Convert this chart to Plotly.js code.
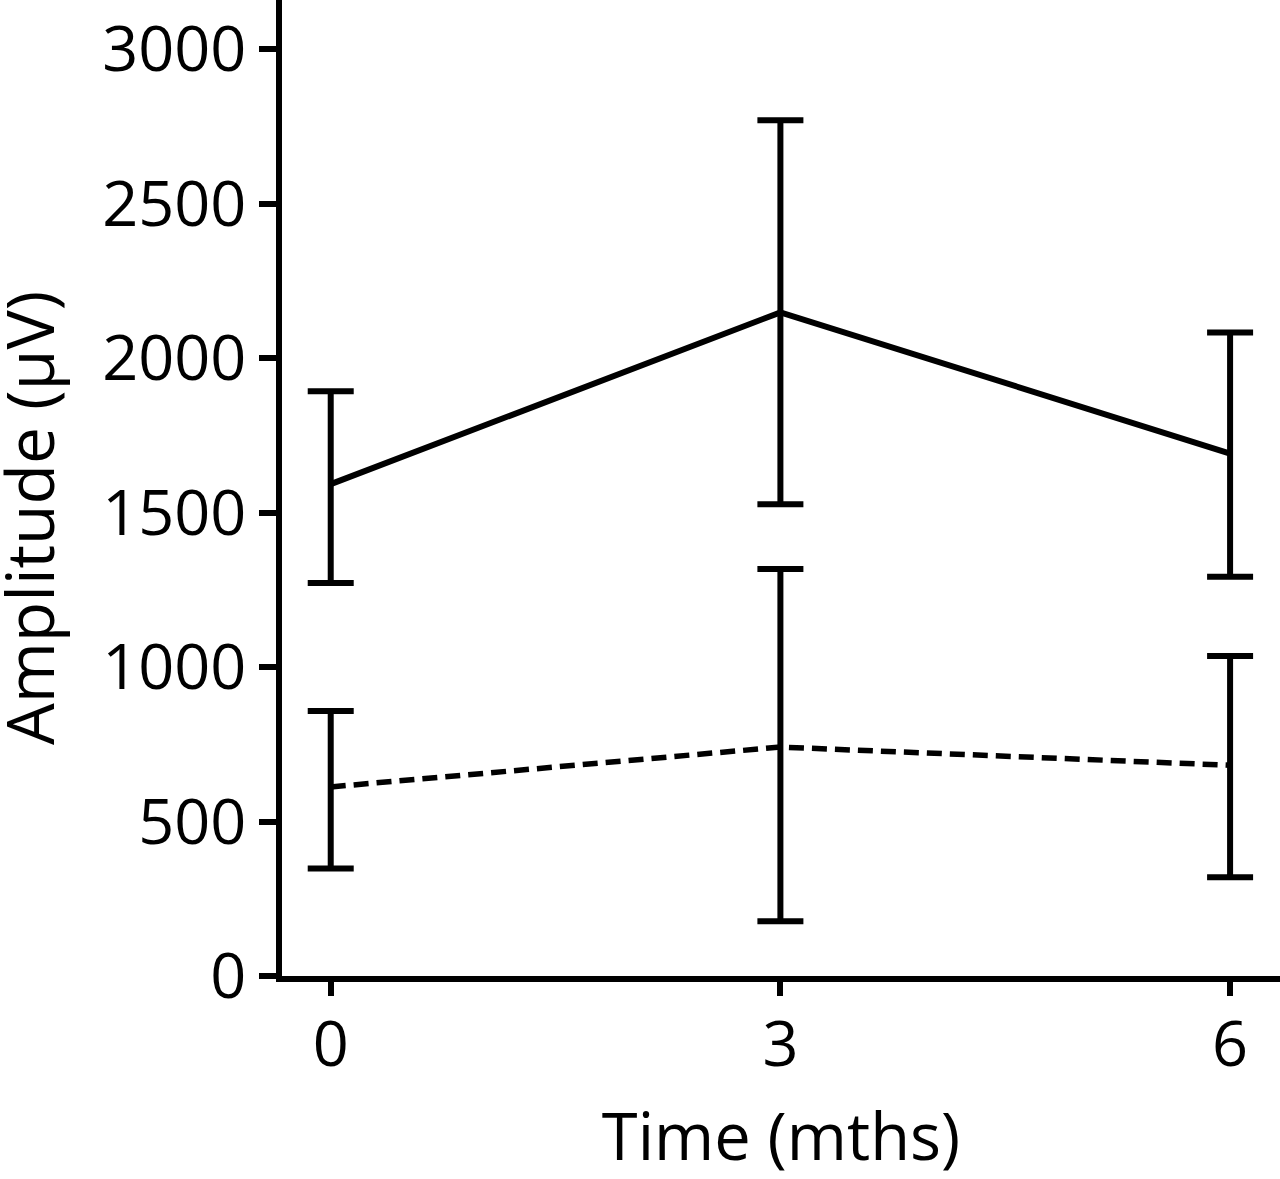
<!DOCTYPE html>
<html>
<head>
<meta charset="utf-8">
<script src="https://cdn.plot.ly/plotly-3.0.1.min.js"></script>
<style>html,body{margin:0;padding:0;background:#fff;}#chart{width:1280px;height:1179px;}</style>
</head>
<body>
<div id="chart"></div>
<script>
// Data
const months = [0, 3, 6];
const solidMean  = [1592, 2148, 1691];
const solidUpper = [1893, 2770, 2083];
const solidLower = [1272, 1527, 1292];
const dashedMean  = [612, 741, 682];
const dashedUpper = [858, 1317, 1036];
const dashedLower = [348, 177, 320];
const yTickVals = [0, 500, 1000, 1500, 2000, 2500, 3000];
const xTickVals = [0, 3, 6];

const FONT = '"Open Sans", "DejaVu Sans", sans-serif';

function errY(mean, upper, lower) {
  return {
    type: 'data', symmetric: false,
    array: upper.map((u, i) => u - mean[i]),
    arrayminus: mean.map((m, i) => m - lower[i]),
    color: '#000', thickness: 6, width: 23, visible: true
  };
}

const traces = [
  {x: months, y: solidMean, type: 'scatter', mode: 'lines',
   line: {color: '#000', width: 6},
   error_y: errY(solidMean, solidUpper, solidLower)},
  {x: months, y: dashedMean, type: 'scatter', mode: 'lines',
   line: {color: '#000', width: 5.5, dash: '15px,8px'},
   error_y: errY(dashedMean, dashedUpper, dashedLower)}
];

const L = 282, R = 0, T = 0, B = 203;
const plotW = 1280 - L - R;
const plotH = 1179 - T - B;

const layout = {
  width: 1280, height: 1179,
  margin: {l: L, r: R, t: T, b: B, pad: 0},
  paper_bgcolor: '#fff', plot_bgcolor: '#fff',
  showlegend: false,
  font: {family: FONT, color: '#000', size: 63},
  xaxis: {
    range: [-0.325, 6.333], tickvals: xTickVals, ticktext: xTickVals.map(String),
    showgrid: false, zeroline: false, showline: true, linecolor: '#000', linewidth: 6,
    ticks: 'outside', ticklen: 14, tickwidth: 6, tickcolor: '#000',
    tickfont: {family: FONT, size: 63, color: '#000'},
    ticklabelstandoff: -6,
    title: {text: 'Time (mths)', font: {family: FONT, size: 65, color: '#000'}, standoff: 36}
  },
  yaxis: {
    range: [0, 3159], tickvals: yTickVals, ticktext: yTickVals.map(String),
    showgrid: false, zeroline: false, showline: true, linecolor: '#000', linewidth: 6,
    ticks: 'outside', ticklen: 17, tickwidth: 6, tickcolor: '#000',
    tickfont: {family: FONT, size: 63, color: '#000'},
    ticklabelstandoff: 0
  },
  annotations: [
    {text: 'Amplitude (µV)', textangle: -90, showarrow: false,
     xref: 'paper', yref: 'paper', x: (28 - L) / plotW, y: (1179 - B - 518) / plotH,
     xanchor: 'center', yanchor: 'middle', borderpad: 0,
     font: {family: FONT, size: 66, color: '#000'}}
  ],
  shapes: [
    {type: 'line', xref: 'paper', yref: 'paper', x0: (263 - L) / plotW, x1: 0, y0: 0, y1: 0,
     line: {color: '#000', width: 6}}
  ]
};

Plotly.newPlot('chart', traces, layout, {staticPlot: true, displayModeBar: false});
</script>
</body>
</html>
